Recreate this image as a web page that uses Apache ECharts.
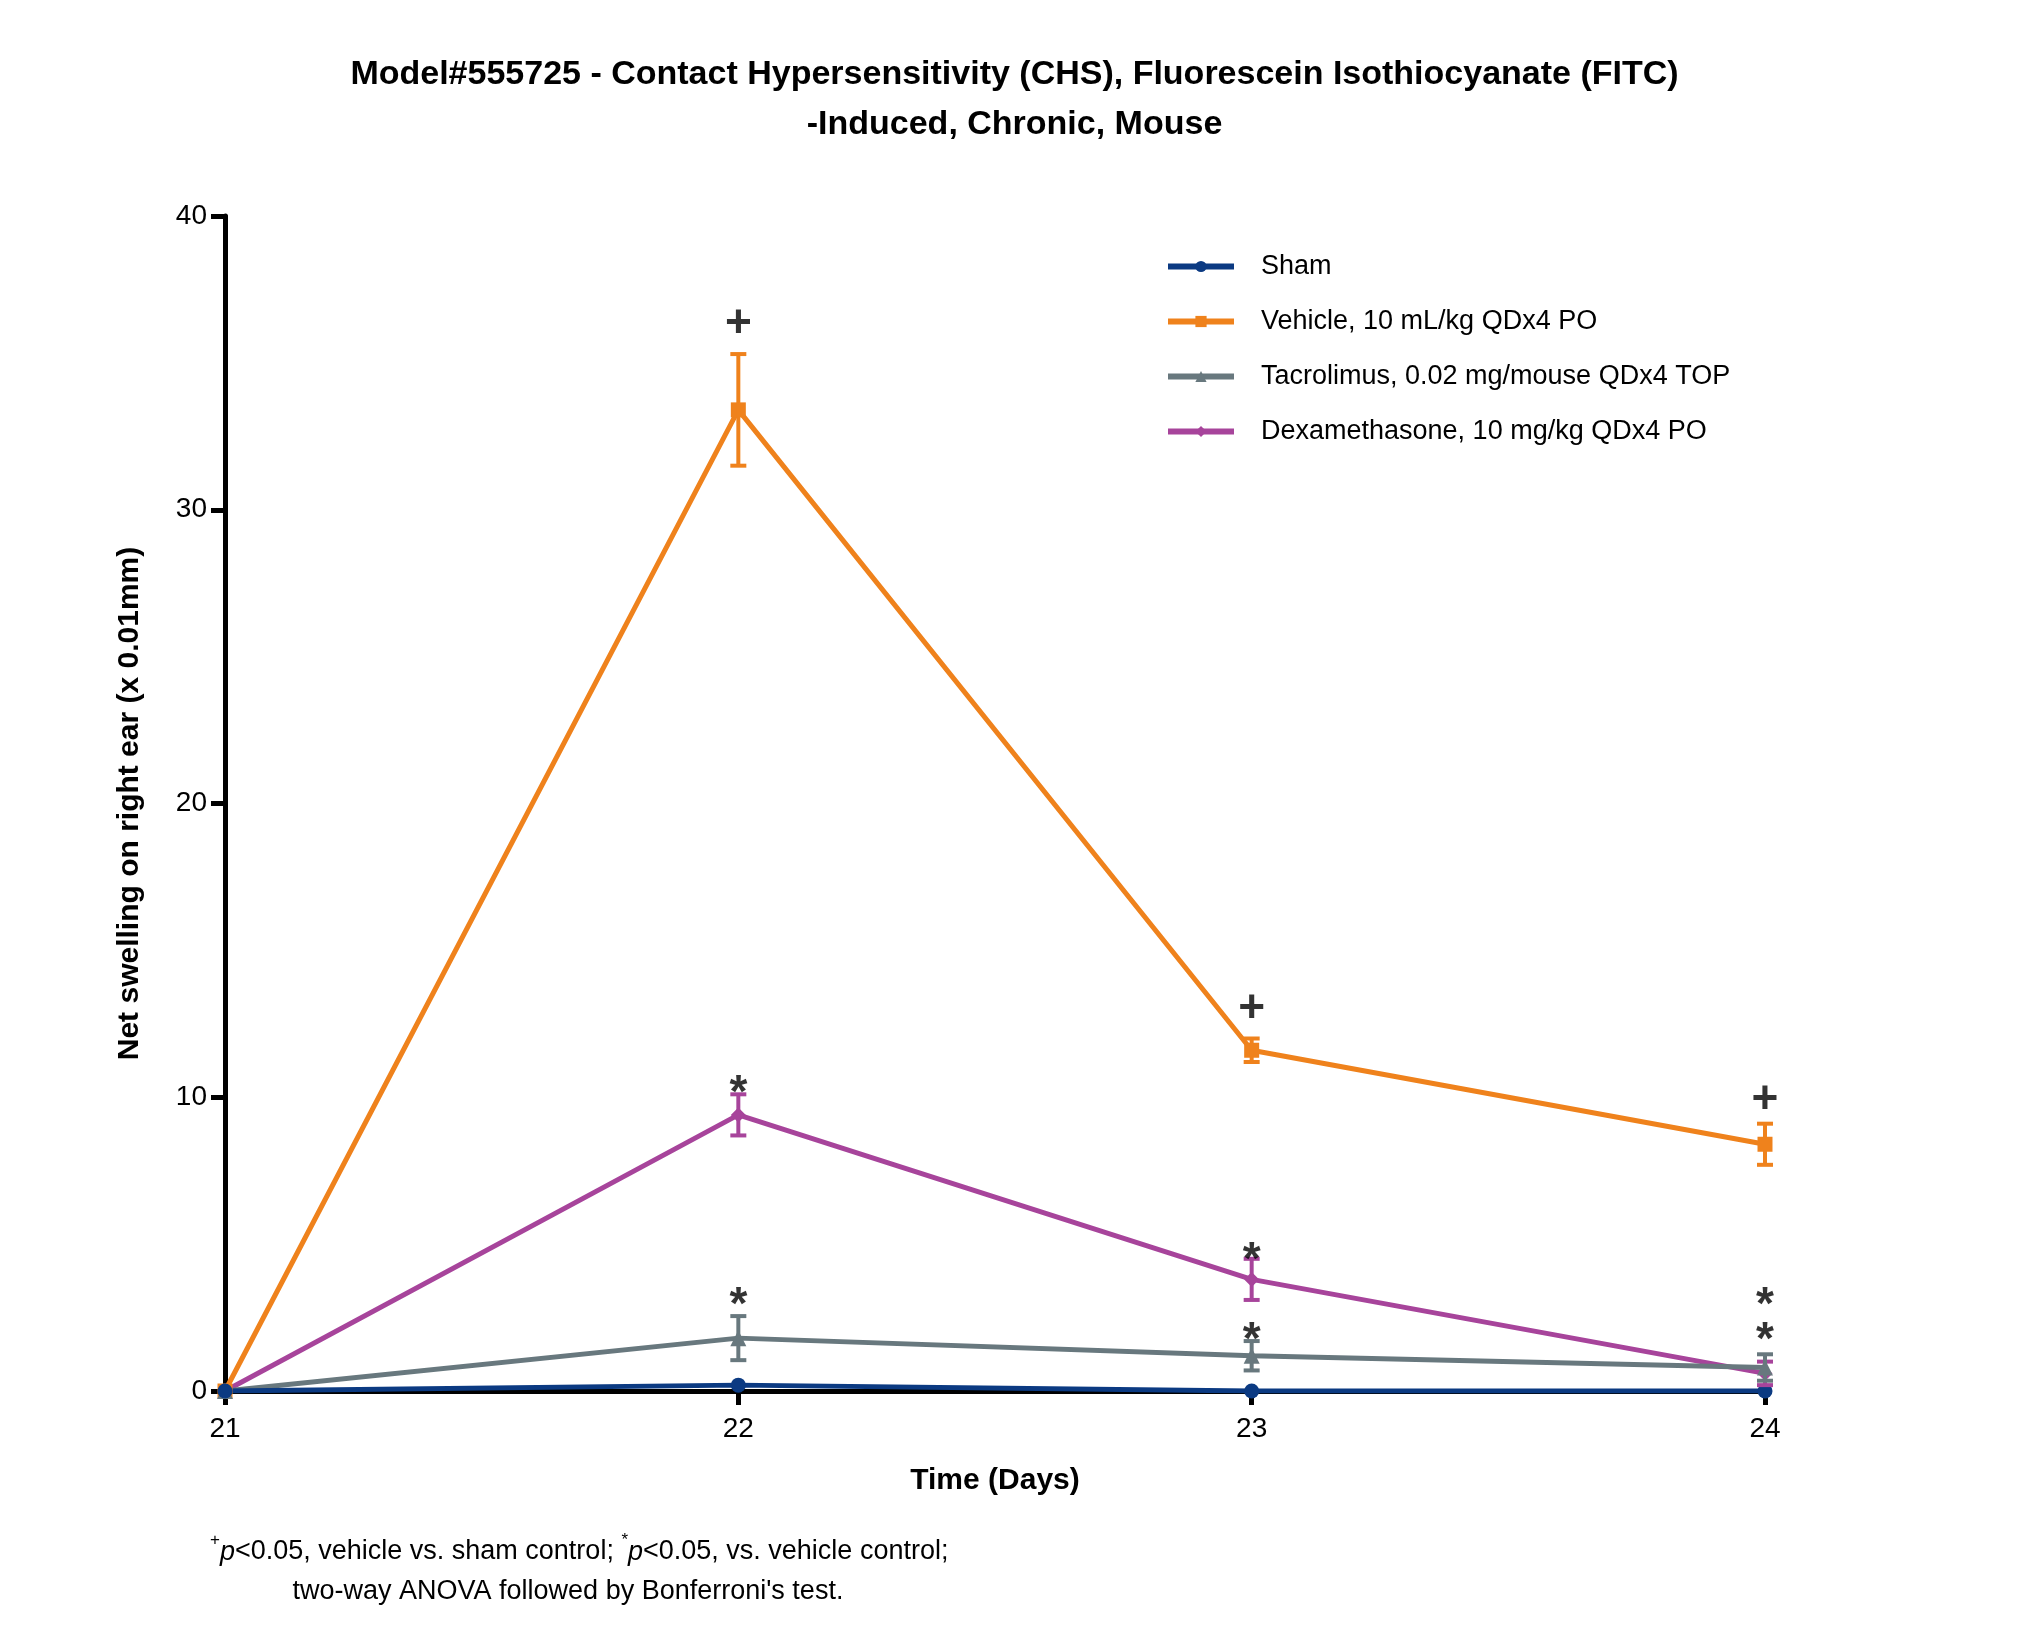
<!DOCTYPE html>
<html>
<head>
<meta charset="utf-8">
<script src="https://cdn.jsdelivr.net/npm/echarts@6/dist/echarts.min.js"></script>
<style>html,body{margin:0;background:#fff}#main{width:2029px;height:1635px}</style>
</head>
<body>
<div id="main"></div>
<script>
var days = [21, 22, 23, 24];
var names = ['Sham', 'Vehicle, 10 mL/kg QDx4 PO', 'Tacrolimus, 0.02 mg/mouse QDx4 TOP', 'Dexamethasone, 10 mg/kg QDx4 PO'];
var colors = ['#0b3a82', '#ef821c', '#68787e', '#a7449b'];
var symbols = ['circle', 'rect', 'triangle', 'diamond'];
var sham = [0, 0.2, 0, 0];
var vehicle = [0, 33.4, 11.6, 8.4];
var tacro = [0, 1.8, 1.2, 0.8];
var dexa = [0, 9.4, 3.8, 0.6];
var shamErr = [0, 0, 0, 0];
var vehicleErr = [0, 1.9, 0.4, 0.7];
var tacroErr = [0, 0.75, 0.5, 0.45];
var dexaErr = [0, 0.7, 0.7, 0.4];
// significance marks: [day, y, text]
var marks = [
    [22, 36.3, '+'], [23, 13.0, '+'], [24, 9.9, '+'],
    [22, 10.1, '*'], [23, 4.4, '*'], [22, 2.9, '*'], [23, 1.7, '*'], [24, 2.9, '*'], [24, 1.7, '*']
];

var values = [sham, vehicle, tacro, dexa];
var errs = [shamErr, vehicleErr, tacroErr, dexaErr];

var chart = echarts.init(document.getElementById('main'));
var series = [];
[1, 3, 2, 0].forEach(function(k) {
    series.push({
        name: names[k],
        type: 'line',
        data: days.map(function(d, i) { return [d, values[k][i]]; }),
        symbol: symbols[k],
        symbolSize: k == 2 ? 16 : 15,
        lineStyle: { color: colors[k], width: 5 },
        itemStyle: { color: colors[k] },
        z: 3
    });
    series.push({
        type: 'custom',
        data: days.map(function(d, i) { return [d, values[k][i], errs[k][i]]; }),
        z: 4,
        renderItem: function(params, api) {
            var e = api.value(2);
            if (!e) return;
            var hi = api.coord([api.value(0), api.value(1) + e]);
            var lo = api.coord([api.value(0), api.value(1) - e]);
            var st = { stroke: colors[k], lineWidth: 4 };
            return { type: 'group', children: [
                { type: 'line', shape: { x1: hi[0], y1: hi[1], x2: lo[0], y2: lo[1] }, style: st },
                { type: 'line', shape: { x1: hi[0] - 8, y1: hi[1], x2: hi[0] + 8, y2: hi[1] }, style: st },
                { type: 'line', shape: { x1: lo[0] - 8, y1: lo[1], x2: lo[0] + 8, y2: lo[1] }, style: st }
            ] };
        }
    });
});
series.push({
    type: 'scatter',
    symbolSize: 2,
    itemStyle: { color: 'rgba(0,0,0,0)' },
    data: marks,
    z: 5,
    label: {
        show: true,
        position: 'inside',
        formatter: function(p) { return p.value[2]; },
        fontSize: 46, fontWeight: 'bold', color: '#000', fontFamily: 'Arial'
    }
});

var option = {
    animation: false,
    title: {
        text: 'Model#555725 - Contact Hypersensitivity (CHS), Fluorescein Isothiocyanate (FITC)\n-Induced, Chronic, Mouse',
        left: 'center', top: 45,
        textStyle: { fontSize: 34, fontWeight: 'bold', color: '#000', lineHeight: 50, fontFamily: 'Arial' }
    },
    legend: {
        orient: 'vertical', left: 1160, top: 248, itemGap: 28, itemWidth: 66, itemHeight: 14,
        data: names.map(function(n, k) { return { name: n, itemStyle: { color: colors[k] }, lineStyle: { width: 6, color: colors[k] } }; }),
        textStyle: { fontSize: 27, color: '#000', fontFamily: 'Arial', padding: [0, 0, 0, 22], letterSpacing: 1.5 }
    },
    grid: { left: 225, right: 264, top: 216, bottom: 244 },
    xAxis: {
        type: 'value', min: 21, max: 24, interval: 1,
        name: 'Time (Days)', nameLocation: 'middle', nameGap: 75,
        nameTextStyle: { fontSize: 30, fontWeight: 'bold', color: '#000', fontFamily: 'Arial' },
        axisLine: { lineStyle: { color: '#000', width: 5 } },
        axisTick: { lineStyle: { color: '#000', width: 5 }, length: 14, inside: false },
        axisLabel: { fontSize: 28, color: '#000', margin: 24, fontFamily: 'Arial' },
        splitLine: { show: false }
    },
    yAxis: {
        type: 'value', min: 0, max: 40, interval: 10,
        name: 'Net swelling on right ear (x 0.01mm)', nameLocation: 'middle', nameGap: 80,
        nameTextStyle: { fontSize: 30, fontWeight: 'bold', color: '#000', fontFamily: 'Arial' },
        axisLine: { show: true, lineStyle: { color: '#000', width: 5 } },
        axisTick: { show: true, lineStyle: { color: '#000', width: 5 }, length: 14 },
        axisLabel: { fontSize: 28, color: '#000', margin: 18, fontFamily: 'Arial' },
        splitLine: { show: false }
    },
    graphic: [{
        type: 'text', left: 210, top: 1532,
        style: {
            text: '{s|+}{i|p}<0.05, vehicle vs. sham control; {s|*}{i|p}<0.05, vs. vehicle control;\n           two-way ANOVA followed by Bonferroni\'s test.',
            fontSize: 27, fill: '#000', fontFamily: 'Arial', lineHeight: 40, letterSpacing: 1.5,
            rich: {
                s: { fontSize: 17, verticalAlign: 'top', padding: [0, 0, 12, 0], fontFamily: 'Arial' },
                i: { fontStyle: 'italic', fontSize: 27, fontFamily: 'Arial' }
            }
        }
    }],
    series: series
};
chart.setOption(option);
chart.resize({ width: 2029, height: 1635 });
</script>
</body>
</html>
